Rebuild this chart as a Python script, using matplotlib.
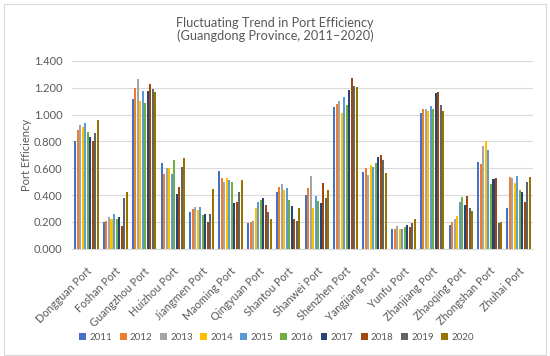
import matplotlib.pyplot as plt
import numpy as np
from matplotlib.patches import Rectangle

ports = ['Dongguan Port', 'Foshan Port', 'Guangzhou Port', 'Huizhou Port', 'Jiangmen Port',
         'Maoming Port', 'Qingyuan Port', 'Shantou Port', 'Shanwei Port', 'Shenzhen Port',
         'Yangjiang Port', 'Yunfu Port', 'Zhanjiang Port', 'Zhaoqing Port', 'Zhongshan Port',
         'Zhuhai Port']
years = ['2011', '2012', '2013', '2014', '2015', '2016', '2017', '2018', '2019', '2020']

# efficiency per port, one list per year
eff_2011 = [0.80, 0.20, 1.115, 0.637, 0.275, 0.58, 0.19, 0.42, 0.40, 1.06, 0.57, 0.15, 1.01, 0.175, 0.645, 0.30]
eff_2012 = [0.885, 0.205, 1.195, 0.557, 0.295, 0.53, 0.20, 0.46, 0.45, 1.08, 0.60, 0.15, 1.045, 0.20, 0.63, 0.535]
eff_2013 = [0.92, 0.235, 1.265, 0.60, 0.31, 0.50, 0.205, 0.48, 0.545, 1.10, 0.55, 0.17, 1.045, 0.22, 0.765, 0.53]
eff_2014 = [0.91, 0.22, 1.10, 0.605, 0.29, 0.53, 0.30, 0.44, 0.305, 1.015, 0.625, 0.145, 1.03, 0.245, 0.80, 0.49]
eff_2015 = [0.935, 0.26, 1.175, 0.56, 0.31, 0.515, 0.35, 0.455, 0.395, 1.13, 0.61, 0.145, 1.065, 0.345, 0.735, 0.54]
eff_2016 = [0.87, 0.225, 1.09, 0.66, 0.25, 0.50, 0.36, 0.365, 0.355, 1.07, 0.64, 0.165, 1.045, 0.385, 0.48, 0.44]
eff_2017 = [0.83, 0.24, 1.175, 0.41, 0.26, 0.34, 0.375, 0.315, 0.34, 1.185, 0.685, 0.175, 1.16, 0.325, 0.52, 0.42]
eff_2018 = [0.80, 0.17, 1.225, 0.46, 0.20, 0.345, 0.325, 0.225, 0.49, 1.275, 0.70, 0.16, 1.165, 0.395, 0.525, 0.345]
eff_2019 = [0.86, 0.38, 1.19, 0.61, 0.26, 0.42, 0.27, 0.205, 0.38, 1.21, 0.66, 0.195, 1.075, 0.305, 0.19, 0.50]
eff_2020 = [0.96, 0.425, 1.17, 0.68, 0.445, 0.51, 0.225, 0.305, 0.435, 1.205, 0.565, 0.22, 1.03, 0.28, 0.20, 0.535]

series = [eff_2011, eff_2012, eff_2013, eff_2014, eff_2015,
          eff_2016, eff_2017, eff_2018, eff_2019, eff_2020]
colours = ['#4472C4', '#ED7D31', '#A5A5A5', '#FFC000', '#5B9BD5',
           '#70AD47', '#264478', '#9E480E', '#636363', '#997300']

plt.rcParams['font.family'] = ['Lato', 'DejaVu Sans']
txt = '#595959'

fig = plt.figure(figsize=(5.5, 3.56), dpi=100)
# chart-area border like the Excel frame
fig.patches.append(Rectangle((0.0064, 0.004), 0.9856, 0.985, transform=fig.transFigure,
                             fill=False, edgecolor='#D9D9D9', linewidth=0.8))
ax = fig.add_axes([0.131, 0.3014, 0.838, 0.5273])

n = len(ports)
x = np.arange(n)
step = 0.087
for k, (vals, c, yr) in enumerate(zip(series, colours, years)):
    ax.bar(x + (k - 4.5) * step, vals, width=step * 0.8, color=c, label=yr, zorder=3)

ax.set_xlim(-0.5, n - 0.5)
ax.set_ylim(0, 1.4)
yt = np.arange(0, 1.41, 0.2)
ax.set_yticks(yt)
ax.set_yticklabels([f'{v:.3f}' for v in yt], fontsize=8, color=txt)
ax.yaxis.grid(True, color='#D9D9D9', linewidth=0.8, zorder=0)
ax.set_xticks(x)
ax.set_xticklabels(ports, rotation=45, ha='right', rotation_mode='anchor',
                   fontsize=7.8, color=txt)
ax.tick_params(axis='y', length=0, pad=7)
ax.tick_params(axis='x', length=0, pad=12)
for s in ['top', 'right', 'left']:
    ax.spines[s].set_visible(False)
ax.spines['bottom'].set_color('#D9D9D9')

ax.set_ylabel('Port Efficiency', fontsize=8, color=txt)
ax.yaxis.set_label_coords(-0.086, 0.5)

fig.text(0.5, 0.917, 'Fluctuating Trend in Port Efficiency\n(Guangdong Province, 2011\u20132020)',
         ha='center', va='center', fontsize=9.2, color=txt, linespacing=1.0)

fig.legend(loc='center', bbox_to_anchor=(0.503, 0.053), ncol=10, fontsize=7, frameon=False,
           handlelength=0.7, handleheight=0.7, handletextpad=0.35, columnspacing=0.75,
           labelcolor=txt)

fig.savefig('out.png', dpi=100)
